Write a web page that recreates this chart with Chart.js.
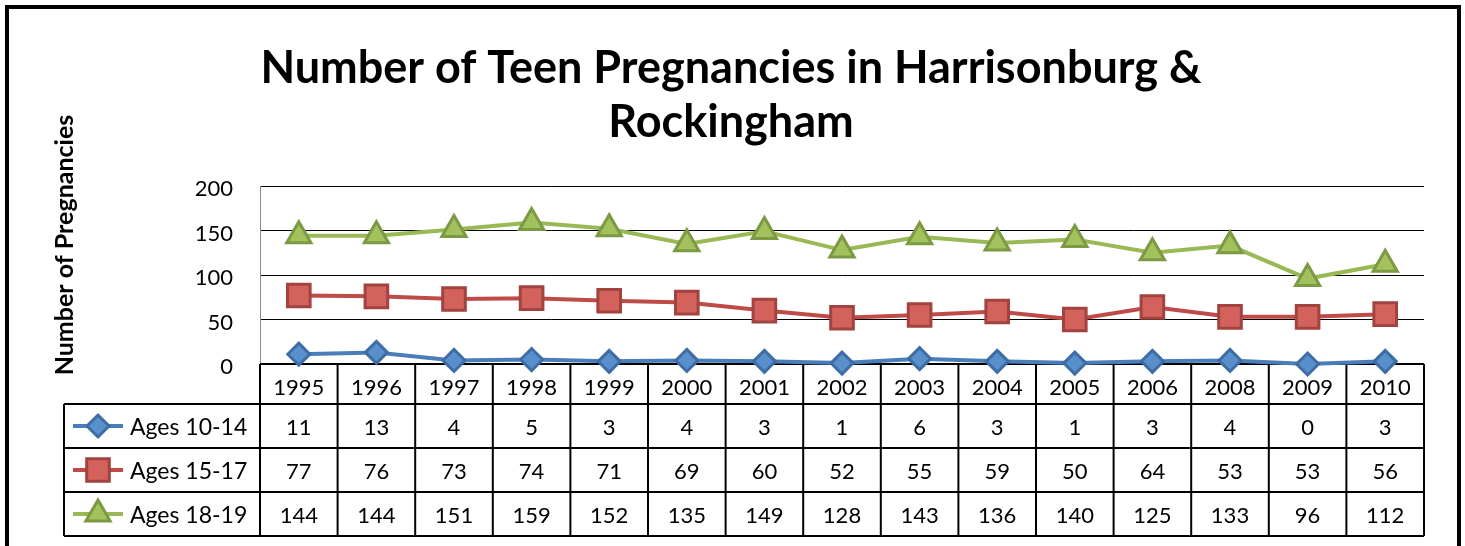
<!DOCTYPE html>
<html><head><meta charset="utf-8">
<script src="https://cdn.jsdelivr.net/npm/chart.js@4.4.1/dist/chart.umd.min.js"></script>
<style>html,body{margin:0;padding:0;background:#fff;}</style>
</head><body>
<canvas id="c" width="1465" height="546" style="display:block;width:1465px;height:546px"></canvas>
<script>
const years = ['1995','1996','1997','1998','1999','2000','2001','2002','2003','2004','2005','2006','2008','2009','2010'];
const ages10_14 = [11,13,4,5,3,4,3,1,6,3,1,3,4,0,3];
const ages15_17 = [77,76,73,74,71,69,60,52,55,59,50,64,53,53,56];
const ages18_19 = [144,144,151,159,152,135,149,128,143,136,140,125,133,96,112];
const seriesNames = ['Ages 10-14','Ages 15-17','Ages 18-19'];
const yTicks = [0,50,100,150,200];
const titleLines = ['Number of Teen Pregnancies in Harrisonburg &','Rockingham'];
const yTitle = 'Number of Pregnancies';

const FONT = 'Lato, "Open Sans", sans-serif';

const tablePlugin = {
  id: 'dataTable',
  beforeDraw(chart) {
    const ctx = chart.ctx;
    ctx.save();
    ctx.fillStyle = '#fff';
    ctx.fillRect(0, 0, chart.width, chart.height);
    ctx.restore();
  },
  beforeDatasetsDraw(chart) {
    const ctx = chart.ctx;
    const a = chart.chartArea;
    const xs = chart.scales.x;
    const n = years.length;
    const colW = (a.right - a.left) / n;
    const top = a.bottom;
    const rowEdges = [top, top + 40, top + 84, top + 128, top + 172];
    const tableLeft = 64;
    ctx.save();
    ctx.strokeStyle = '#000';
    ctx.lineWidth = 2;
    ctx.beginPath();
    ctx.moveTo(a.left, rowEdges[0]); ctx.lineTo(a.right, rowEdges[0]);
    for (let r = 1; r < rowEdges.length; r++) {
      ctx.moveTo(tableLeft, rowEdges[r]); ctx.lineTo(a.right, rowEdges[r]);
    }
    ctx.moveTo(tableLeft, rowEdges[1]); ctx.lineTo(tableLeft, rowEdges[4]);
    for (let i = 0; i <= n; i++) {
      const x = a.left + i * colW;
      ctx.moveTo(x, rowEdges[0]); ctx.lineTo(x, rowEdges[4]);
    }
    ctx.stroke();
    ctx.fillStyle = '#000';
    ctx.font = '22px ' + FONT;
    ctx.textAlign = 'center';
    ctx.textBaseline = 'middle';
    const ds = chart.data.datasets;
    for (let r = 0; r < ds.length; r++) {
      const cy = (rowEdges[r + 1] + rowEdges[r + 2]) / 2 + 1.5;
      ds[r].data.forEach((v, i) => {
        ctx.fillText(String(v), xs.getPixelForValue(i), cy);
      });
      const d = ds[r];
      ctx.strokeStyle = d.borderColor;
      ctx.lineWidth = d.borderWidth;
      ctx.beginPath();
      ctx.moveTo(73, cy - 1.5); ctx.lineTo(123, cy - 1.5);
      ctx.stroke();
      const opts = {pointStyle: d.pointStyle, radius: d.pointRadius, rotation: 0, borderWidth: d.pointBorderWidth};
      ctx.fillStyle = d.pointBackgroundColor;
      ctx.strokeStyle = d.pointBorderColor;
      ctx.lineWidth = d.pointBorderWidth;
      Chart.helpers.drawPoint(ctx, opts, 98, cy - 1.5);
      ctx.fillStyle = '#000';
      ctx.textAlign = 'left';
      ctx.font = '23px ' + FONT;
      ctx.fillText(seriesNames[r], 130, cy);
      ctx.font = '22px ' + FONT;
      ctx.textAlign = 'center';
    }
    ctx.save();
    ctx.translate(65, 245);
    ctx.rotate(-Math.PI / 2);
    ctx.font = 'bold 25px ' + FONT;
    ctx.fillStyle = '#000';
    ctx.fillText(yTitle, 0, 0);
    ctx.restore();
    ctx.restore();
  },
  afterDraw(chart) {
    const ctx = chart.ctx;
    ctx.save();
    ctx.strokeStyle = '#000';
    ctx.lineWidth = 4;
    ctx.strokeRect(7, 7, 1452, 600);
    ctx.restore();
  }
};

new Chart(document.getElementById('c'), {
  type: 'line',
  data: {
    labels: years,
    datasets: [
      {label: seriesNames[0], data: ages10_14, borderColor: '#4A7EBB', borderWidth: 4,
       pointStyle: 'rectRot', pointRadius: 11, pointBackgroundColor: '#5990CC', pointBorderColor: '#3E6DA5', pointBorderWidth: 3, clip: false},
      {label: seriesNames[1], data: ages15_17, borderColor: '#BE4B48', borderWidth: 4,
       pointStyle: 'rect', pointRadius: 16, pointBackgroundColor: '#D3625D', pointBorderColor: '#A2433F', pointBorderWidth: 3, clip: false},
      {label: seriesNames[2], data: ages18_19, borderColor: '#98B954', borderWidth: 4,
       pointStyle: 'triangle', pointRadius: 14, pointBackgroundColor: '#A3C25E', pointBorderColor: '#7C9A43', pointBorderWidth: 3, clip: false}
    ]
  },
  options: {
    responsive: false,
    animation: false,
    devicePixelRatio: 1,
    layout: {padding: {left: 38, right: 41, top: 0, bottom: 0}},
    plugins: {
      legend: {display: false},
      tooltip: {enabled: false},
      title: {
        display: true,
        text: titleLines,
        color: '#000',
        font: {family: FONT, size: 45, weight: 'bold', lineHeight: 1.2},
        padding: {top: 41, bottom: 37}
      }
    },
    scales: {
      x: {
        type: 'category',
        offset: true,
        grid: {display: false, offset: true},
        border: {display: false},
        ticks: {color: '#000', font: {family: FONT, size: 22}, padding: 3, maxRotation: 0, autoSkip: false},
        afterFit(s) { s.height = 182; }
      },
      y: {
        min: 0, max: 200,
        afterBuildTicks(s) { s.ticks = yTicks.map(v => ({value: v})); },
        grid: {color: '#000', lineWidth: 1, drawTicks: false},
        border: {display: true, color: '#8c8c8c', width: 1},
        ticks: {color: '#000', font: {family: FONT, size: 22}, padding: 27, labelOffset: 3},
        afterFit(s) { s.width = 222; }
      }
    }
  },
  plugins: [tablePlugin]
});
</script>
</body></html>
